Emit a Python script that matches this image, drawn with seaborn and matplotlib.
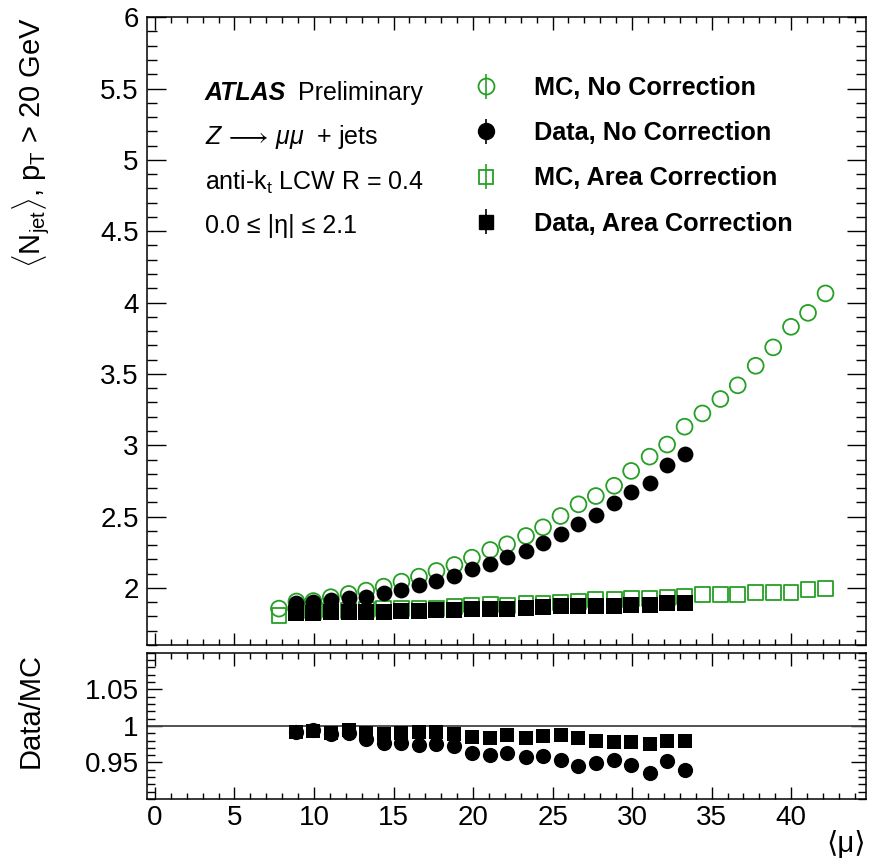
import matplotlib
matplotlib.use("Agg")
import matplotlib.pyplot as plt
import seaborn as sns
import numpy as np
from matplotlib.ticker import MultipleLocator, FixedLocator, FuncFormatter

# <mu> values of the MC points
mu_mc = [7.8, 8.9, 9.96, 11.06, 12.18, 13.28, 14.38, 15.5, 16.6, 17.7, 18.83,
         19.93, 21.08, 22.14, 23.33, 24.4, 25.5, 26.63, 27.72, 28.87, 29.94,
         31.1, 32.2, 33.3, 34.42, 35.55, 36.64, 37.77, 38.87, 39.99, 41.06, 42.16]
# <mu> values of the data points
mu_data = [8.9, 9.96, 11.06, 12.18, 13.28, 14.38, 15.5, 16.6, 17.7, 18.83,
           19.93, 21.08, 22.14, 23.33, 24.4, 25.5, 26.63, 27.72, 28.87, 29.94,
           31.1, 32.2, 33.3]

mc_nocorr = [1.855, 1.905, 1.908, 1.935, 1.958, 1.981, 2.009, 2.044, 2.079, 2.119,
             2.161, 2.212, 2.266, 2.306, 2.364, 2.425, 2.504, 2.586, 2.644, 2.716,
             2.82, 2.92, 3.005, 3.13, 3.223, 3.324, 3.42, 3.557, 3.686, 3.83,
             3.928, 4.064]
data_nocorr = [1.893, 1.904, 1.916, 1.928, 1.939, 1.967, 1.986, 2.021, 2.049, 2.084,
               2.131, 2.168, 2.219, 2.259, 2.317, 2.376, 2.446, 2.511, 2.593, 2.675,
               2.733, 2.861, 2.938]
mc_area = [1.809, 1.838, 1.836, 1.845, 1.841, 1.849, 1.854, 1.854, 1.856, 1.858,
           1.867, 1.880, 1.885, 1.878, 1.890, 1.891, 1.895, 1.906, 1.916, 1.918,
           1.923, 1.928, 1.934, 1.938, 1.951, 1.951, 1.951, 1.967, 1.967, 1.967,
           1.986, 1.998]
data_area = [1.823, 1.823, 1.828, 1.830, 1.832, 1.834, 1.837, 1.841, 1.843, 1.846,
             1.851, 1.853, 1.855, 1.858, 1.865, 1.870, 1.874, 1.876, 1.876, 1.881,
             1.881, 1.893, 1.897]

ratio_nocorr = [0.992, 0.994, 0.9895, 0.990, 0.9818, 0.976, 0.976, 0.974, 0.975,
                0.972, 0.9634, 0.9596, 0.9626, 0.957, 0.9587, 0.954, 0.945, 0.9486,
                0.954, 0.947, 0.936, 0.9527, 0.9395]
ratio_area = [0.992, 0.993, 0.9906, 0.994, 0.9906, 0.989, 0.9906, 0.992, 0.992,
              0.989, 0.9845, 0.983, 0.9877, 0.983, 0.986, 0.987, 0.983, 0.979,
              0.978, 0.978, 0.9756, 0.979, 0.979]

labels = ["MC, No Correction", "Data, No Correction",
          "MC, Area Correction", "Data, Area Correction"]

green = "#25a025"

sns.set_theme(style="ticks")
plt.rcParams["font.family"] = ["Liberation Sans", "DejaVu Sans"]
plt.rcParams["text.color"] = "black"
plt.rcParams["axes.labelcolor"] = "black"
plt.rcParams["mathtext.fontset"] = "custom"
plt.rcParams["mathtext.rm"] = "Liberation Sans"
plt.rcParams["mathtext.it"] = "Liberation Sans:italic"
plt.rcParams["mathtext.bf"] = "Liberation Sans:bold"
plt.rcParams["mathtext.fallback"] = "cm"

fig = plt.figure(figsize=(8.8, 8.6), dpi=100)
ax = fig.add_axes([0.167, 0.25, 0.817, 0.730])
axr = fig.add_axes([0.167, 0.0709, 0.817, 0.170])

# upper panel
sns.scatterplot(x=mu_mc, y=mc_nocorr, marker="o", s=130, facecolors="none",
                edgecolor=green, linewidth=1.3, ax=ax, zorder=3)
sns.scatterplot(x=mu_data, y=data_nocorr, marker="o", s=130, color="black",
                edgecolor="black", linewidth=0, ax=ax, zorder=4)
sns.scatterplot(x=mu_mc, y=mc_area, marker="s", s=115, facecolors="none",
                edgecolor=green, linewidth=1.3, ax=ax, zorder=3)
sns.scatterplot(x=mu_data, y=data_area, marker="s", s=120, color="black",
                edgecolor="black", linewidth=0, ax=ax, zorder=4)

# ratio panel
axr.axhline(1.0, color="#444444", lw=1.3, zorder=1)
sns.scatterplot(x=mu_data, y=ratio_nocorr, marker="o", s=120, color="black",
                edgecolor="black", linewidth=0, ax=axr, zorder=3)
sns.scatterplot(x=mu_data, y=ratio_area, marker="s", s=115, color="black",
                edgecolor="black", linewidth=0, ax=axr, zorder=4)

for a in (ax, axr):
    a.set_xlim(-0.5, 44.7)
    a.xaxis.set_major_locator(MultipleLocator(5))
    a.xaxis.set_minor_locator(MultipleLocator(1))
    a.tick_params(which="both", direction="in", top=True, right=True,
                  labelsize=20, color="black", labelcolor="black")
    a.tick_params(axis="x", which="major", length=9, width=1)
    a.tick_params(axis="x", which="minor", length=4.5, width=1)
    for sp in a.spines.values():
        sp.set_linewidth(1.1)
        sp.set_color("black")

fmt = FuncFormatter(lambda v, p: f"{v:g}")

ax.set_ylim(1.6, 6.0)
ax.yaxis.set_major_locator(MultipleLocator(0.5))
ax.yaxis.set_minor_locator(MultipleLocator(0.1))
ax.yaxis.set_major_formatter(fmt)
ax.tick_params(axis="y", which="major", length=14, width=1, pad=6)
ax.tick_params(axis="y", which="minor", length=7, width=1)
ax.tick_params(axis="x", labelbottom=False)
ax.set_xlabel("")
ax.set_ylabel(r"$\langle$N$_{\mathrm{jet}}\rangle$, p$_{\mathrm{T}}$ > 20 GeV",
              fontsize=21, loc="top")
ax.yaxis.set_label_coords(-0.133, 1.0)

axr.set_ylim(0.9, 1.1)
axr.yaxis.set_major_locator(FixedLocator([0.95, 1.0, 1.05]))
axr.yaxis.set_minor_locator(MultipleLocator(0.01))
axr.yaxis.set_major_formatter(fmt)
axr.tick_params(axis="y", which="major", length=11, width=1, pad=6)
axr.tick_params(axis="y", which="minor", length=5.5, width=1)
axr.tick_params(axis="x", pad=4)
axr.set_ylabel("Data/MC", fontsize=21, loc="top")
axr.yaxis.set_label_coords(-0.142, 1.0)
axr.set_xlabel("⟨μ⟩", fontsize=21, loc="right")
axr.xaxis.set_label_coords(1.0, -0.21)

# labels in the upper panel
def fx(px):
    return px / 880.0

def fy(py):
    return 1.0 - py / 860.0

fig.text(fx(205), fy(93), "ATLAS", fontsize=18, fontweight="bold",
         fontstyle="italic", va="center")
fig.text(fx(298), fy(93), "Preliminary", fontsize=18, va="center")
fig.text(fx(205), fy(137), r"$Z\,\longrightarrow\,\mu\mu$  + jets", fontsize=18, va="center")
fig.text(fx(205), fy(182), r"anti-k$_{\mathrm{t}}$ LCW R = 0.4", fontsize=18, va="center")
fig.text(fx(205), fy(226), "0.0 ≤ |η| ≤ 2.1", fontsize=18, va="center")

# legend proxies drawn as points with error bars
h1 = ax.errorbar([np.nan], [np.nan], yerr=[1], fmt="o", ms=11.5, mfc="none",
                 mec=green, mew=1.3, ecolor=green, elinewidth=1.2)
h2 = ax.errorbar([np.nan], [np.nan], yerr=[1], fmt="o", ms=11.5, mfc="black",
                 mec="black", ecolor="black", elinewidth=1.2)
h3 = ax.errorbar([np.nan], [np.nan], yerr=[1], fmt="s", ms=10.5, mfc="none",
                 mec=green, mew=1.3, ecolor=green, elinewidth=1.2)
h4 = ax.errorbar([np.nan], [np.nan], yerr=[1], fmt="s", ms=10.5, mfc="black",
                 mec="black", ecolor="black", elinewidth=1.2)
leg = fig.legend([h1, h2, h3, h4], labels, loc="upper left",
                 bbox_to_anchor=(fx(466), fy(76)), frameon=False, numpoints=1,
                 prop={"weight": "bold", "size": 18.2}, handlelength=1.6,
                 handletextpad=1.1, labelspacing=0.84, borderpad=0, borderaxespad=0)
for t in leg.get_texts():
    t.set_color("black")

fig.savefig("out.png", dpi=100)
